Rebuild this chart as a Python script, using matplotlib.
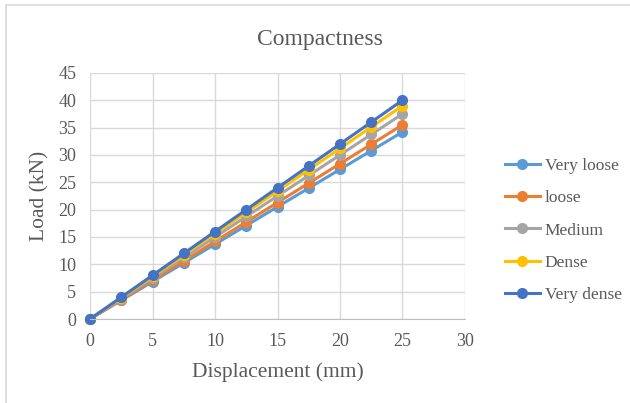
import matplotlib

matplotlib.use("Agg")
import matplotlib.pyplot as plt  # noqa: E402
from matplotlib.lines import Line2D  # noqa: E402

plt.rcParams["font.family"] = ["Liberation Serif", "DejaVu Serif"]

displacement = [0, 2.5, 5, 7.5, 10, 12.5, 15, 17.5, 20, 22.5, 25]
very_loose = [0, 3.42, 6.84, 10.26, 13.68, 17.1, 20.52, 23.94, 27.36, 30.78, 34.2]
loose = [0, 3.55, 7.1, 10.65, 14.2, 17.75, 21.3, 24.85, 28.4, 31.95, 35.5]
medium = [0, 3.75, 7.5, 11.25, 15, 18.75, 22.5, 26.25, 30, 33.75, 37.5]
dense = [0, 3.9, 7.8, 11.7, 15.6, 19.5, 23.4, 27.3, 31.2, 35.1, 39.0]
very_dense = [0, 4, 8, 12, 16, 20, 24, 28, 32, 36, 40]

series = [
    ("Very loose", very_loose, "#5B9BD5"),
    ("loose", loose, "#ED7D31"),
    ("Medium", medium, "#A5A5A5"),
    ("Dense", dense, "#FFC000"),
    ("Very dense", very_dense, "#4472C4"),
]

TXT = "#595959"
GRID = "#D9D9D9"

fig = plt.figure(figsize=(6.3, 4.03), dpi=100)
ax = fig.add_axes([0.143, 0.2084, 0.595, 0.6106])

for name, ys, col in series:
    ax.plot(displacement, ys, color=col, lw=2.2, marker="o", ms=7,
            label=name, clip_on=False)

ax.set_xlim(0, 30)
ax.set_ylim(0, 45)
ax.set_xticks(range(0, 31, 5))
ax.set_yticks(range(0, 46, 5))
ax.grid(True, color=GRID, lw=1)
ax.set_axisbelow(True)
for side in ("top", "right", "left"):
    ax.spines[side].set_visible(False)
ax.spines["bottom"].set_color("#BFBFBF")
ax.tick_params(length=0, labelsize=13, colors=TXT, pad=10)

ax.set_xlabel("Displacement (mm)", fontsize=15.5, color=TXT, labelpad=9)
ax.set_ylabel("Load (kN)", fontsize=15.5, color=TXT, labelpad=6)
fig.text(0.508, 0.902, "Compactness", ha="center", va="center",
         fontsize=17, color=TXT)

ax.legend(loc="center left", bbox_to_anchor=(1.065, 0.36), frameon=False,
          fontsize=12.5, labelcolor=TXT, handlelength=2.0, labelspacing=0.92,
          handletextpad=0.3)

# chart area border (only top and left edges visible)
fig.add_artist(Line2D([6 / 630, 1], [1 - 5 / 403] * 2, color=GRID, lw=1.2))
fig.add_artist(Line2D([6 / 630] * 2, [0, 1 - 5 / 403], color=GRID, lw=1.2))

fig.savefig("out.png", dpi=100)
